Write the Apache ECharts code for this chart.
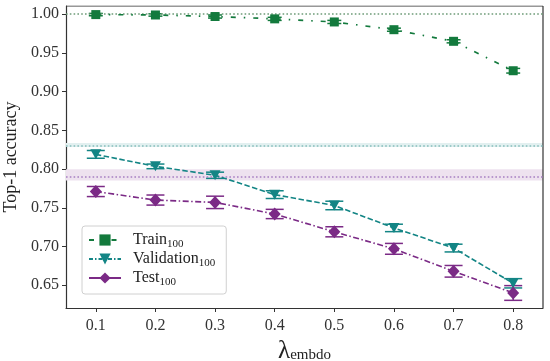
<!DOCTYPE html>
<html>
<head>
<meta charset="utf-8">
<script src="https://cdn.jsdelivr.net/npm/echarts@6/dist/echarts.min.js"></script>
<style>html,body{margin:0;padding:0;background:#fff}#c{width:550px;height:361px}</style>
</head>
<body>
<div id="c"></div>
<script>
const lambdas = [0.1, 0.2, 0.3, 0.4, 0.5, 0.6, 0.7, 0.8];
const trainAcc = [0.9995, 0.999, 0.997, 0.994, 0.990, 0.980, 0.965, 0.927];
const trainErr = [0.0015, 0.0015, 0.002, 0.002, 0.002, 0.002, 0.002, 0.003];
const valAcc = [0.819, 0.8035, 0.792, 0.767, 0.753, 0.724, 0.698, 0.6525];
const valErr = [0.005, 0.003, 0.004, 0.005, 0.0055, 0.0048, 0.005, 0.006];
const testAcc = [0.771, 0.760, 0.757, 0.742, 0.719, 0.697, 0.668, 0.640];
const testErr = [0.0065, 0.0065, 0.008, 0.006, 0.0065, 0.007, 0.0075, 0.0095];
const trainRef = 1.0;
const valRef = 0.831, valRefBand = 0.0026;
const testRef = 0.7925, testRefBand = 0.0074;
const yTicks = [0.65, 0.70, 0.75, 0.80, 0.85, 0.90, 0.95, 1.00];
const xTicks = [0.1, 0.2, 0.3, 0.4, 0.5, 0.6, 0.7, 0.8];
const seriesNames = ['Train', 'Validation', 'Test'];
const subscript = '100';

const FONT = 'Liberation Serif';
const C = {train: '#137a3d', val: '#138585', test: '#7b2a86'};
const X0 = 0.05, X1 = 0.85, Y0 = 0.6206, Y1 = 1.0106;

function pairs(ys) { return lambdas.map((x, i) => [x, ys[i]]); }
function errData(ys, es) { return lambdas.map((x, i) => [x, ys[i] - es[i], ys[i] + es[i]]); }
function errSeries(ys, es, color, capHalf) {
  return {
    type: 'custom', silent: true, z: 3,
    data: errData(ys, es),
    renderItem: function (params, api) {
      const x = api.value(0);
      const lo = api.coord([x, api.value(1)]);
      const hi = api.coord([x, api.value(2)]);
      const st = {stroke: color, lineWidth: 1.5};
      return {type: 'group', children: [
        {type: 'line', shape: {x1: lo[0], y1: lo[1], x2: hi[0], y2: hi[1]}, style: st},
        {type: 'line', shape: {x1: lo[0] - capHalf, y1: lo[1], x2: lo[0] + capHalf, y2: lo[1]}, style: st},
        {type: 'line', shape: {x1: hi[0] - capHalf, y1: hi[1], x2: hi[0] + capHalf, y2: hi[1]}, style: st}
      ]};
    }
  };
}
const rich = {
  sp: {width: 7, lineHeight: 20},
  a: {fontFamily: FONT, fontSize: 16, lineHeight: 20, color: '#222'},
  s: {fontFamily: FONT, fontSize: 11, lineHeight: 10, verticalAlign: 'bottom', color: '#222'}
};

const option = {
  animation: false,
  backgroundColor: '#fff',
  grid: {left: 66, right: 7, top: 6, bottom: 53, outerBoundsMode: 'none', containLabel: false},
  legend: {
    orient: 'vertical', left: 82, top: 226,
    data: [
      {name: 'Train'},
      {name: 'Validation', lineStyle: {type: [4, 2, 1.5, 2]}},
      {name: 'Test', lineStyle: {type: 'solid'}}
    ],
    itemWidth: 32, itemHeight: 14, itemGap: 1,
    padding: [6, 11, 6, 6],
    borderColor: '#d0d0d0', borderWidth: 1, borderRadius: 3,
    backgroundColor: 'rgba(255,255,255,0.8)',
    formatter: n => '{sp|}{a|' + n + '}{s|' + subscript + '}',
    textStyle: {rich: rich}
  },
  xAxis: {
    type: 'value', min: X0, max: X1,
    name: '{l|λ}{s|embdo}', nameLocation: 'middle', nameGap: 21,
    nameTextStyle: {rich: {
      l: {fontFamily: FONT, fontSize: 25, lineHeight: 22, color: '#222'},
      s: {fontFamily: FONT, fontSize: 15, lineHeight: 12, verticalAlign: 'bottom', color: '#222'}
    }},
    axisLine: {show: true, onZero: false, lineStyle: {color: '#333', width: 1.2}},
    axisTick: {show: true, length: 4, lineStyle: {color: '#333'}, customValues: xTicks},
    axisLabel: {fontFamily: FONT, fontSize: 16, color: '#333', margin: 10, customValues: xTicks,
      formatter: v => v.toFixed(1)},
    splitLine: {show: false}
  },
  yAxis: {
    type: 'value', min: Y0, max: Y1,
    name: 'Top-1 accuracy', nameLocation: 'middle', nameGap: 44,
    nameTextStyle: {fontFamily: FONT, fontSize: 18, color: '#222'},
    axisLine: {show: true, lineStyle: {color: '#333', width: 1.2}},
    axisTick: {show: true, length: 4, lineStyle: {color: '#333'}, customValues: yTicks},
    axisLabel: {fontFamily: FONT, fontSize: 16, color: '#333', margin: 7, customValues: yTicks,
      formatter: v => v.toFixed(2)},
    splitLine: {show: false}
  },
  series: [
    {
      name: 'Train', type: 'line', z: 5, data: pairs(trainAcc),
      symbol: 'rect', symbolSize: 9,
      itemStyle: {color: C.train},
      lineStyle: {color: C.train, width: 1.7, type: [5, 8, 1.5, 8]},
      markLine: {
        silent: true, symbol: 'none', label: {show: false},
        data: [
          {yAxis: trainRef, lineStyle: {color: '#6e9c78', type: [1.6, 2.2], width: 1.7}},
          {yAxis: valRef, lineStyle: {color: '#86bdbb', type: [1.6, 2.2], width: 1.6}},
          {yAxis: testRef, lineStyle: {color: '#a77fc2', type: [1.6, 2.2], width: 1.6}}
        ]
      },
      markArea: {
        silent: true,
        data: [
          [{yAxis: valRef - valRefBand, itemStyle: {color: '#e2f0f0'}}, {yAxis: valRef + valRefBand}],
          [{yAxis: testRef - testRefBand, itemStyle: {color: '#eee2ef'}}, {yAxis: testRef + testRefBand}]
        ]
      }
    },
    {
      name: 'Validation', type: 'line', z: 5, data: pairs(valAcc),
      symbol: 'triangle', symbolRotate: 180, symbolSize: [11, 10],
      itemStyle: {color: C.val},
      lineStyle: {color: C.val, width: 1.6, type: [5.5, 2.5]}
    },
    {
      name: 'Test', type: 'line', z: 5, data: pairs(testAcc),
      symbol: 'diamond', symbolSize: [12, 13],
      itemStyle: {color: C.test},
      lineStyle: {color: C.test, width: 1.6, type: [6, 2.5, 1.5, 2.5]}
    },
    errSeries(trainAcc, trainErr, C.train, 7),
    errSeries(valAcc, valErr, C.val, 9),
    errSeries(testAcc, testErr, C.test, 9),
    {
      type: 'line', silent: true, data: [[X1, Y0], [X1, Y1]],
      symbol: 'none', lineStyle: {color: '#333', width: 1.2}, z: 1
    },
    {
      type: 'line', silent: true, data: [[X0, Y1], [X1, Y1]],
      symbol: 'none', lineStyle: {color: '#333', width: 1.2}, z: 1
    }
  ]
};
const chart = echarts.init(document.getElementById('c'), null, {renderer: 'canvas'});
chart.setOption(option);
</script>
</body>
</html>
